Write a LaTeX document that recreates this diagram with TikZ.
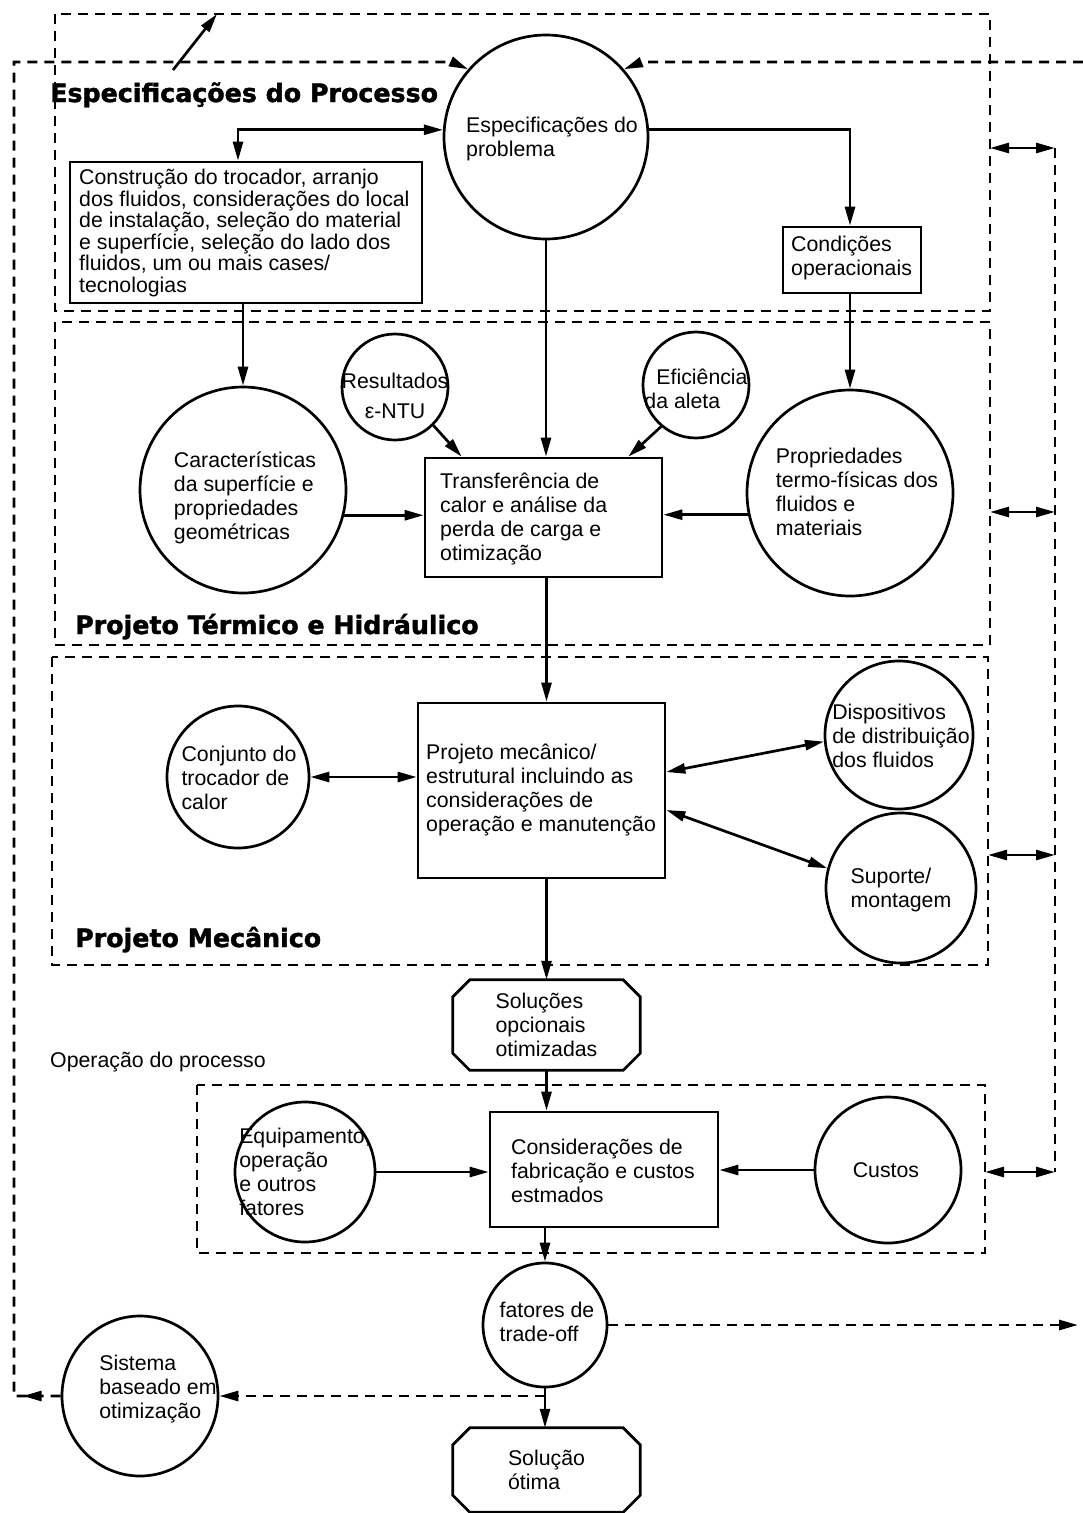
\documentclass[tikz,border=0pt]{standalone}
\usepackage{fontspec}
\setmainfont{Liberation Sans}
\newfontfamily\titlefont{DejaVu Sans}[BoldFeatures={FakeBold=1.6}]
\usetikzlibrary{arrows.meta,decorations.markings,shapes.geometric}

% octagonal frame around a (borderless) node
\newcommand\octframe[2]{%
  \draw[lw] ([xshift=#2]#1.north west) -- ([xshift=-#2]#1.north east)
    -- ([yshift=-#2]#1.north east) -- ([yshift=#2]#1.south east)
    -- ([xshift=-#2]#1.south east) -- ([xshift=#2]#1.south west)
    -- ([yshift=#2]#1.south west) -- ([yshift=-#2]#1.north west) -- cycle;}

\begin{document}
\begin{tikzpicture}[x=1pt,y=-1pt,
  >={Triangle[length=19pt,width=10pt]},
  lw/.style={line width=2.7pt},
  txt/.style={font=\fontsize{21.3}{24}\selectfont, align=left, inner sep=0pt},
  title/.style={font=\titlefont\bfseries\fontsize{25.3}{28}\selectfont, inner sep=0pt, anchor=base west},
  circ/.style={circle, draw, lw, inner sep=0pt},
  box/.style={rectangle, draw, lw, inner sep=0pt},
  hold/.style={rectangle, draw=none, txt, inner sep=0pt},
  region/.style={draw, lw, dash pattern=on 10pt off 7pt},
  arr/.style={lw, ->},
  arr2/.style={lw, <->},
  darr/.style={lw, dash pattern=on 10pt off 7pt, ->},
  dline/.style={lw, dash pattern=on 10pt off 7pt},
]
\useasboundingbox (0,0) rectangle (1083,1513);

% ---- dashed regions ----
\draw[region] (55,14) rectangle (990,311);
\draw[region] (55,322) rectangle (990,645);
\draw[region] (52,657) rectangle (988,965);
\draw[region] (197,1085) rectangle (985,1253);

% ---- region titles ----
\node[title] (t1) at (50,102) {Especificações do Processo};
\node[title] (t2) at (75,634) {Projeto Térmico e Hidráulico};
\node[title] (t3) at (75,947) {Projeto Mecânico};
\node[txt, anchor=base west] (t4) at (50,1067) {Operação do processo};

% ---- process specification ----
\node[circ, minimum size=204pt] (spec) at (546,137) {};
\node[txt] (spec-t) at (552,139) {Especificações do\\problema};

\node[box, minimum width=352pt, minimum height=141pt] (constr) at (246,232.5) {};
\node[txt, anchor=west, font=\fontsize{21.3}{21.6}\selectfont] (constr-t) at (79,233)
  {Construção do trocador, arranjo\\dos fluidos, considerações do local\\de instalação, seleção do material\\e superfície, seleção do lado dos\\fluidos, um ou mais cases/\\tecnologias};

\node[box, minimum width=138pt, minimum height=66pt] (cond) at (852,260) {};
\node[txt, anchor=west] (cond-t) at (791,258) {Condições\\operacionais};

% ---- thermal and hydraulic design ----
\node[circ, minimum size=206pt] (carac) at (243,490) {};
\node[txt] (carac-t) at (245,498) {Características\\da superfície e\\propriedades\\geométricas};

\node[circ, minimum size=106pt] (resu) at (395,387) {};
\node[txt, align=center, font=\fontsize{21.3}{30}\selectfont] (resu-t) at (395,396) {Resultados\\ε-NTU};

\node[circ, minimum size=106pt] (efic) at (696,385) {};
\node[txt] (efic-t) at (696,389) {\hspace*{12pt}Eficiência\\da aleta};

\node[circ, minimum size=206pt] (prop) at (850,493) {};
\node[txt] (prop-t) at (857,492) {Propriedades\\termo-físicas dos\\fluidos e\\materiais};

\node[box, minimum width=237pt, minimum height=119pt] (transf) at (543.5,517.5) {};
\node[txt, anchor=west] (transf-t) at (440,519) {Transferência de\\calor e análise da\\perda de carga e\\otimização};

% ---- mechanical design ----
\node[box, minimum width=247pt, minimum height=175pt] (mec) at (541.5,790.5) {};
\node[txt, anchor=west] (mec-t) at (426,790) {Projeto mecânico/\\estrutural incluindo as\\considerações de\\operação e manutenção};

\node[circ, minimum size=142pt] (conj) at (238,777) {};
\node[txt] (conj-t) at (239,778) {Conjunto do\\trocador de\\calor};

\node[circ, minimum size=148pt] (disp) at (899,735) {};
\node[txt] (disp-t) at (901,736) {Dispositivos\\de distribuição\\dos fluidos};

\node[circ, minimum size=150pt] (supo) at (901,888) {};
\node[txt] (supo-t) at (901,890) {Suporte/\\montagem};

% ---- optional solutions ----
\node[hold, minimum width=187pt, minimum height=90pt] (sol1) at (546.5,1025) {Soluções\\opcionais\\otimizadas};
\octframe{sol1}{17pt}

% ---- process operation ----
\node[box, minimum width=228pt, minimum height=115pt] (cons) at (604,1169.5) {};
\node[txt, anchor=west] (cons-t) at (511,1171) {Considerações de\\fabricação e custos\\estmados};

\node[circ, minimum size=140pt] (equi) at (305,1172) {};
\node[txt] (equi-t) at (305,1172) {Equipamento,\\operação\\e outros\\fatores};

\node[circ, minimum size=146pt] (cust) at (888,1170) {};
\node[txt] (cust-t) at (886,1170) {Custos};

% ---- trade-off and optimum ----
\node[circ, minimum size=124pt] (fat) at (545,1325) {};
\node[txt] (fat-t) at (547,1322) {fatores de\\trade-off};

\node[ellipse, draw, lw, inner sep=0pt, minimum width=156pt, minimum height=160pt] (sist) at (140,1396) {};
\node[txt] (sist-t) at (158,1389) {Sistema\\baseado em\\otimização};

\node[hold, minimum width=187pt, minimum height=84pt] (sol2) at (546.5,1470) {Solução\\ótima};
\octframe{sol2}{17pt}

% ---- solid connectors ----
\draw[arr2] (spec.176) -| ([xshift=-8pt]constr.north);
\draw[arr] (spec.4) -| ([xshift=-2pt]cond.north);
\draw[arr] (spec.south) -- (spec.south |- transf.north);
\draw[arr] (carac.north |- constr.south) -- (carac.north);
\draw[arr] (prop.north |- cond.south) -- (prop.north);
\draw[arr] (carac.-14) -- (carac.-14 -| transf.west);
\draw[arr] (prop.192) -- (prop.192 -| transf.east);
\draw[arr] (resu.-45) -- ([xshift=38pt]transf.north west);
\draw[arr] (efic.-130) -- ([xshift=-35pt]transf.north east);
\draw[arr] ([xshift=3pt]transf.south) -- ([xshift=3pt]transf.south |- mec.north);
\draw[arr2] (conj.east) -- (conj.east -| mec.west);
\draw[arr2] ([yshift=18.5pt]mec.east) -- (disp.185);
\draw[arr2] ([yshift=-19.5pt]mec.east) -- (supo.165);
\draw[arr] (sol1.north |- mec.south) -- (sol1.north);
\draw[arr] (sol1.south) -- (sol1.south |- cons.north);
\draw[arr] (equi.east) -- (equi.east -| cons.west);
\draw[arr] (cust.west) -- (cust.west -| cons.east);
\draw[arr] (fat.north |- cons.south) -- (fat.north);
\draw[arr] (fat.south) -- (fat.south |- sol2.north);

% arrow towards the outer dashed loop
\coordinate (up-a) at (173,70);
\coordinate (up-b) at (217,14);
\draw[arr] (up-a) -- (up-b);

% ---- dashed feedback paths ----
\coordinate (fl1) at (14,1396);
\coordinate (fl2) at (14,62);
\coordinate (fl3) at (452,62);
\draw[darr, postaction={decorate},
      decoration={markings, mark=at position 38pt with {\arrow{>}}}]
  (sist.west) -- (fl1) -- (fl2) -- (fl3) -- (spec.139);

\coordinate (fr1) at (1083,62);
\coordinate (fr2) at (642,62);
\draw[darr] (fr1) -- (fr2) -- (spec.41);

\coordinate (fo) at (1078,1325);
\draw[darr] (fat.east) -- (fo);

\coordinate (fs) at (fat.south |- sist.east);
\draw[darr] (fs) -- (sist.east);

% ---- right-hand link between the design stages ----
\coordinate (r1) at (990,148);
\coordinate (r2) at (990,512);
\coordinate (r3) at (988,855);
\coordinate (r4) at (985,1172);
\coordinate (q1) at (1055,148);
\coordinate (q2) at (1055,512);
\coordinate (q3) at (1055,855);
\coordinate (q4) at (1055,1172);
\draw[dline] (q1) -- (q4);
\draw[arr2] (r1) -- (q1);
\draw[arr2] (r2) -- (q2);
\draw[arr2] (r3) -- (q3);
\draw[arr2] (r4) -- (q4);
\end{tikzpicture}
\end{document}
